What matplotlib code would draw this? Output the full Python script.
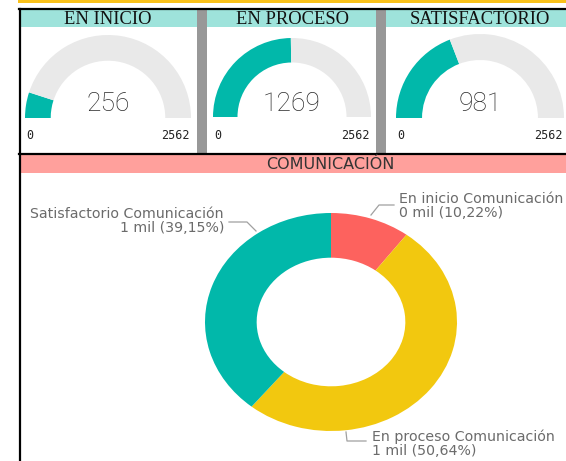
import matplotlib
matplotlib.use("Agg")
import matplotlib.pyplot as plt
from matplotlib.patches import Rectangle

# figure is laid out in pixels
W, H = 566, 461

# --- data ---
gauge_titles = ["EN INICIO", "EN PROCESO", "SATISFACTORIO"]
gauge_values = [256, 1269, 981]
gauge_max = 2562

donut_title = "COMUNICACIÓN"
donut_cats = ["En inicio Comunicación", "En proceso Comunicación", "Satisfactorio Comunicación"]
donut_pct = [10.22, 50.64, 39.15]
donut_mil = [0, 1, 1]

TEAL = "#01B8AA"
RED = "#FD625E"
YELLOW = "#F2C80F"
GAUGE_BG = "#E9E9E9"
donut_colors = [RED, YELLOW, TEAL]


def px_axes(fig, x0, y0, x1, y1):
    return fig.add_axes([x0 / W, 1 - y1 / H, (x1 - x0) / W, (y1 - y0) / H])


fig = plt.figure(figsize=(W / 100, H / 100), dpi=100)
fig.patch.set_facecolor("white")

# background layer in pixel coordinates
bg = fig.add_axes([0, 0, 1, 1])
bg.set_xlim(0, W)
bg.set_ylim(H, 0)
bg.axis("off")

bg.add_patch(Rectangle((18, 0), W - 18, 3.5, color="#F9C11B", lw=0))
bg.plot([19, W], [9, 9], color="black", lw=1.6)
bg.plot([19.5, 19.5], [9, H], color="black", lw=1.6)
bg.plot([19, W], [154, 154], color="black", lw=1.6)

panels = [(21, 197), (207, 376), (386, W)]
for (a, b) in panels:
    bg.add_patch(Rectangle((a, 10), b - a, 17, color="#9EE3DB", lw=0))
for a in (197, 376):
    bg.add_patch(Rectangle((a, 10), 10, 143, color="#989898", lw=0))

bg.add_patch(Rectangle((20.5, 155), W - 20.5, 18, color="#FFA09C", lw=0))
bg.text(330, 164.5, donut_title, ha="center", va="center",
        fontsize=11.5, color="#333333", family="DejaVu Sans")

# --- gauges ---
gauge_geom = [(108, 118, 83), (292, 117, 79), (480, 118, 84)]
title_x = [108, 292, 480]
for i, (cx, cy, r) in enumerate(gauge_geom):
    bg.text(title_x[i], 19, gauge_titles[i], ha="center", va="center",
            fontsize=13.3, family="Liberation Serif", color="#111111")
    ax = px_axes(fig, cx - r, cy - r, cx + r, cy)
    v = gauge_values[i]
    ax.pie([v, gauge_max - v, gauge_max], colors=[TEAL, GAUGE_BG, "none"],
           startangle=180, counterclock=False, radius=1,
           wedgeprops=dict(width=0.31, linewidth=0))
    ax.set_aspect("auto")
    ax.set_xlim(-1, 1)
    ax.set_ylim(0, 1)
    ax.axis("off")
    bg.text(cx, 104, str(v), ha="center", va="center", fontsize=19,
            family="Roboto", fontweight="light", color="#2a2a2a")
    bg.text(cx - r + 1, 135, "0", ha="left", va="center", fontsize=8.5,
            family="DejaVu Sans Mono", color="#222222")
    bg.text(cx + r - 1, 135, str(gauge_max), ha="right", va="center", fontsize=8.5,
            family="DejaVu Sans Mono", color="#222222")

# --- donut ---
dcx, dcy, rx, ry = 331, 322, 126, 109
dax = px_axes(fig, dcx - rx, dcy - ry, dcx + rx, dcy + ry)
dax.pie(donut_pct, colors=donut_colors, startangle=90, counterclock=False,
        radius=1, wedgeprops=dict(width=0.41, linewidth=0))
dax.set_aspect("auto")
dax.set_xlim(-1, 1)
dax.set_ylim(-1, 1)
dax.axis("off")

lab_col = "#6B6B6B"
lead_col = "#A0A0A0"
lab_font = dict(fontsize=10.2, family="DejaVu Sans", color=lab_col, linespacing=1.0)

def lab(i):
    return "%s\n%d mil (%s%%)" % (donut_cats[i], donut_mil[i],
                                  ("%.2f" % donut_pct[i]).replace(".", ","))

# en inicio (top right)
bg.plot([371, 379, 394], [215, 205, 205], color=lead_col, lw=0.9)
bg.text(399, 206, lab(0), ha="left", va="center", **lab_font)
# satisfactorio (top left)
bg.plot([229, 247, 256], [222, 222, 231], color=lead_col, lw=0.9)
bg.text(224, 221, lab(2), ha="right", va="center", multialignment="right", **lab_font)
# en proceso (bottom)
bg.plot([346, 347, 366], [432, 441, 441], color=lead_col, lw=0.9)
bg.text(372, 444, lab(1), ha="left", va="center", **lab_font)

fig.savefig("out.png", dpi=100)
